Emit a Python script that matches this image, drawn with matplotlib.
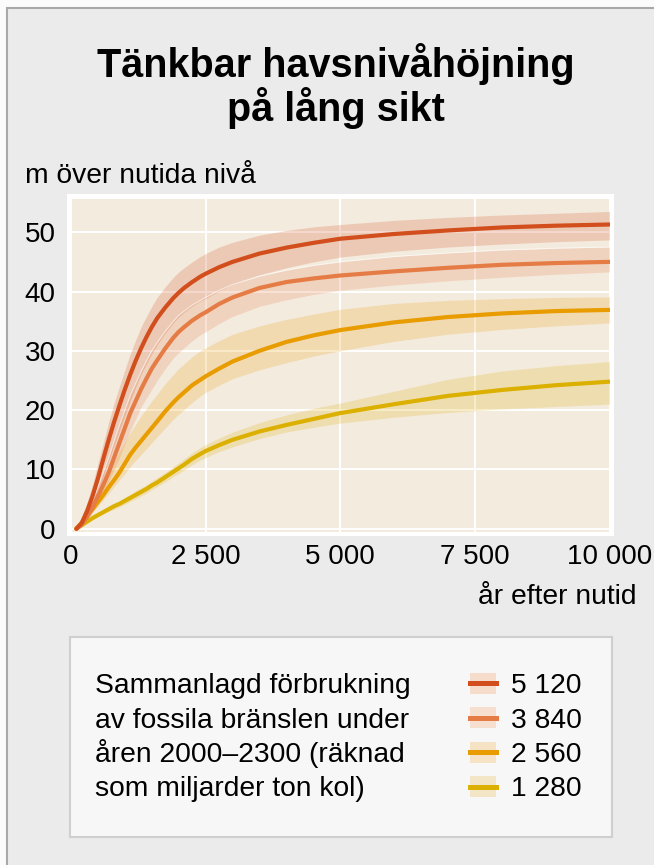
import matplotlib
matplotlib.use('Agg')
import matplotlib.pyplot as plt
from matplotlib.patches import Rectangle
from matplotlib.lines import Line2D

plt.rcParams['font.family'] = ['Liberation Sans', 'DejaVu Sans']

W, H = 654, 865

# --- data ---
years = [100, 200, 300, 400, 500, 600, 700, 800, 900, 1000, 1100, 1200,
         1300, 1400, 1500, 1600, 1750, 1900, 2000, 2100, 2250, 2400, 2500,
         2750, 3000, 3500, 4000, 4500, 5000, 6000, 7000, 8000, 9000, 10000]

rise_5120 = [0, 1, 3, 5.5, 8.5, 11.8, 15, 18, 20.8, 23.5, 26, 28.3,
             30.4, 32.3, 34, 35.5, 37.3, 38.9, 39.8, 40.6, 41.6, 42.5, 43,
             44.1, 45, 46.4, 47.4, 48.2, 48.9, 49.7, 50.3, 50.8, 51.1, 51.3]
high_5120 = [0, 2, 4.5, 7.5, 11, 14.5, 18, 21.2, 24, 26.8, 29.5, 31.8,
             34, 35.8, 37.5, 39, 40.8, 42.4, 43.3, 44, 45, 45.9, 46.4,
             47.5, 48.3, 49.5, 50.3, 50.9, 51.3, 52, 52.5, 52.9, 53.2, 53.5]
low_5120 = [0, 0.6, 2, 3.8, 6, 8.7, 11.5, 14, 16.5, 19, 21.5, 23.8,
            26, 27.8, 29.5, 31, 33, 34.7, 35.7, 36.5, 37.5, 38.4, 38.8,
            40.1, 41.2, 42.8, 44, 45, 45.8, 46.8, 47.5, 48, 48.4, 48.7]

rise_3840 = [0, 0.7, 2, 3.6, 5.5, 7.4, 9.5, 12, 14.5, 17, 19.5, 21.5,
             23.5, 25.3, 27, 28.4, 30.4, 32.2, 33.2, 34, 35.1, 36, 36.5,
             37.9, 39, 40.6, 41.6, 42.2, 42.7, 43.4, 44, 44.5, 44.8, 45.0]
high_3840 = [0, 1, 2.5, 4.6, 7, 9.5, 12, 14.8, 17.5, 20, 22.5, 24.5,
             26.5, 28.3, 30, 31.4, 33.3, 35, 36, 36.7, 37.7, 38.5, 39,
             40.2, 41.2, 42.6, 43.6, 44.4, 45, 45.9, 46.5, 47, 47.3, 47.5]
low_3840 = [0, 0.5, 1.5, 2.8, 4.5, 6.2, 8, 10, 12, 14.3, 16.5, 18.5,
            20.5, 22, 23.5, 25, 27, 28.8, 29.7, 30.5, 31.7, 32.7, 33.2,
            34.6, 35.8, 37.5, 38.6, 39.5, 40.2, 41.1, 41.8, 42.4, 42.9, 43.3]

rise_2560 = [0, 1, 2.2, 3.3, 4.5, 5.7, 7, 8.2, 9.5, 11, 12.5, 13.7,
             14.8, 15.9, 17, 18.1, 19.8, 21.3, 22.2, 23, 24.2, 25.1, 25.7,
             27, 28.2, 30, 31.5, 32.6, 33.5, 34.8, 35.7, 36.3, 36.7, 36.9]
high_2560 = [0, 1.3, 2.8, 4.4, 6, 7.7, 9.5, 11.3, 13, 14.6, 16.2, 17.6,
             19, 20.3, 21.5, 22.7, 24.5, 26, 27, 27.8, 29, 30, 30.5,
             31.7, 32.8, 34.2, 35.3, 36.2, 37, 38, 38.5, 38.8, 39, 39.1]
low_2560 = [0, 0.8, 1.8, 2.8, 3.8, 4.9, 6, 7.1, 8.2, 9.3, 10.5, 11.5,
            12.5, 13.5, 14.5, 15.5, 17, 18.5, 19.3, 20.1, 21.3, 22.4, 23,
            24.2, 25.3, 26.8, 28, 29.1, 30, 31.6, 32.8, 33.6, 34.2, 34.7]

rise_1280 = [0, 0.6, 1.2, 1.8, 2.3, 2.8, 3.3, 3.8, 4.2, 4.7, 5.2, 5.7,
             6.2, 6.7, 7.3, 7.8, 8.7, 9.6, 10.2, 10.8, 11.8, 12.6, 13.1,
             14.1, 15, 16.4, 17.5, 18.5, 19.5, 21, 22.4, 23.4, 24.2, 24.8]
high_1280 = [0, 0.7, 1.4, 2, 2.6, 3.2, 3.7, 4.2, 4.7, 5.3, 5.8, 6.4,
             6.9, 7.4, 8, 8.6, 9.5, 10.5, 11.1, 11.8, 12.8, 13.7, 14.2,
             15.3, 16.3, 17.9, 19.2, 20.3, 21.2, 23.2, 25.2, 26.6, 27.5, 28.2]
low_1280 = [0, 0.5, 1, 1.5, 2, 2.5, 2.9, 3.3, 3.7, 4.1, 4.6, 5,
            5.5, 6, 6.6, 7.1, 7.9, 8.8, 9.3, 9.9, 10.8, 11.6, 12,
            13, 13.8, 15.2, 16.3, 17.1, 17.8, 18.8, 19.6, 20.2, 20.6, 21.0]

labels = ['5 120', '3 840', '2 560', '1 280']
line_colors = ['#d24e1c', '#e57c45', '#e89c00', '#dcb000']
patch_colors = ['#f6dccb', '#f7dfcf', '#f6e2c4', '#f3e6c6']

series = [(rise_5120, low_5120, high_5120),
          (rise_3840, low_3840, high_3840),
          (rise_2560, low_2560, high_2560),
          (rise_1280, low_1280, high_1280)]

x_ticks = [0, 2500, 5000, 7500, 10000]
x_ticklabels = ['0', '2 500', '5 000', '7 500', '10 000']
y_ticks = [0, 10, 20, 30, 40, 50]


def fx(px):
    return px / W


def fy(py):
    return 1 - py / H


fig = plt.figure(figsize=(W / 100, H / 100), dpi=100)
fig.patch.set_facecolor('#fbfbfb')

# grey panel with thin border at left/top
fig.patches.append(Rectangle((fx(7), fy(H + 20)), fx(W + 20), (H + 12) / H,
                             transform=fig.transFigure, facecolor='#ebebeb',
                             edgecolor='#a8a8a8', linewidth=1.5, zorder=0))
# white frame around the plot
fig.patches.append(Rectangle((fx(67), fy(535.5)), fx(614 - 67), (535.5 - 193.5) / H,
                             transform=fig.transFigure, facecolor='white',
                             edgecolor='none', zorder=1))

ax = fig.add_axes([fx(71), fy(531.7), fx(609.5 - 71), (531.7 - 199) / H])
ax.set_facecolor('#f4ebdf')
ax.set_zorder(2)
ax.set_xlim(0, 10000)
ax.set_ylim(-0.5, 55.6)
for s in ax.spines.values():
    s.set_visible(False)
ax.grid(True, color='white', linewidth=1.4)
ax.set_axisbelow(True)

# bands first (lowest scenario at the back), then lines
order = [3, 2, 1, 0]
for i in order:
    mid, lo, hi = series[i]
    ax.fill_between(years, lo, hi, color=line_colors[i], alpha=0.21,
                    linewidth=0, zorder=2)
# faint seam along the top of the 3 840 band
ax.plot(years, high_3840, color='white', linewidth=0.7, alpha=0.6, zorder=3)
for i in order:
    mid, lo, hi = series[i]
    ax.plot(years, mid, color=line_colors[i], linewidth=3.0,
            solid_capstyle='round', solid_joinstyle='round', zorder=4)

ax.set_xticks(x_ticks)
ax.set_xticklabels(x_ticklabels)
ax.set_yticks(y_ticks)
ax.tick_params(length=0, labelsize=20, colors='black')
ax.tick_params(axis='x', pad=9)
ax.tick_params(axis='y', pad=11)

# titles and axis labels
fig.text(fx(336), fy(77), 'Tänkbar havsnivåhöjning', ha='center', va='baseline',
         fontsize=28.5, fontweight='bold')
fig.text(fx(336), fy(121), 'på lång sikt', ha='center', va='baseline',
         fontsize=28.5, fontweight='bold')
fig.text(fx(25), fy(183), 'm över nutida nivå', ha='left', va='baseline',
         fontsize=20.3)
fig.text(fx(637), fy(604), 'år efter nutid', ha='right', va='baseline',
         fontsize=20.3)

# legend box
fig.patches.append(Rectangle((fx(70), fy(837)), fx(612 - 70), (837 - 637) / H,
                             transform=fig.transFigure, facecolor='#f7f7f7',
                             edgecolor='#cfcfcf', linewidth=1.5, zorder=1))
legend_text = ['Sammanlagd förbrukning', 'av fossila bränslen under',
               'åren 2000\u20132300 (räknad', 'som miljarder ton kol)']
baselines = [693, 727.5, 762, 796.5]
for t, b in zip(legend_text, baselines):
    fig.text(fx(95), fy(b), t, ha='left', va='baseline', fontsize=20.3)
for i, (lab, b) in enumerate(zip(labels, baselines)):
    cy = b - 10
    fig.patches.append(Rectangle((fx(470), fy(cy + 10.5)), fx(26), 21 / H,
                                 transform=fig.transFigure, facecolor=patch_colors[i],
                                 edgecolor='none', zorder=2))
    fig.lines.append(Line2D([fx(470), fx(496)], [fy(cy), fy(cy)],
                            transform=fig.transFigure, color=line_colors[i],
                            linewidth=3.6, zorder=3))
    fig.text(fx(511), fy(b), lab, ha='left', va='baseline', fontsize=20.3)

fig.savefig('out.png', dpi=100)
